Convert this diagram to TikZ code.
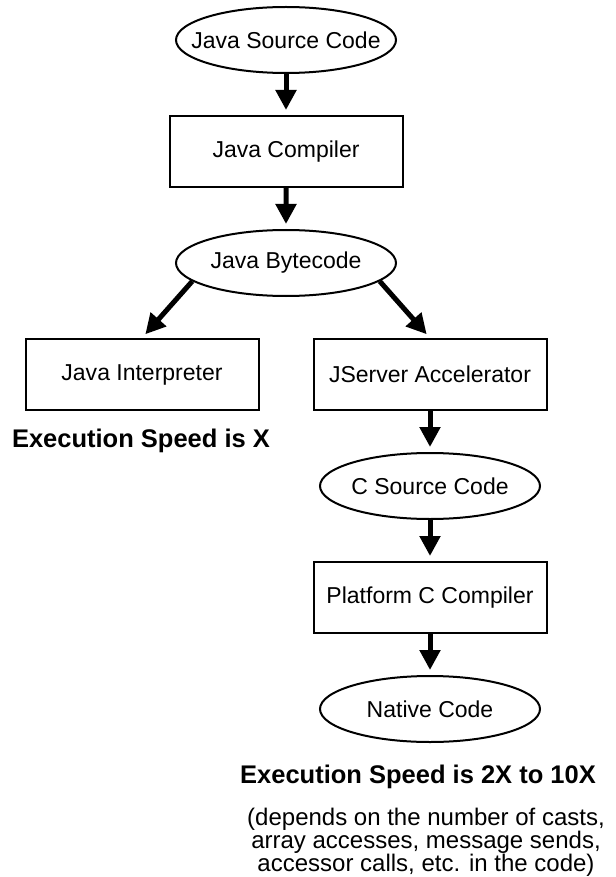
\documentclass[tikz,border=0pt]{standalone}
\usepackage{fontspec}
\setmainfont{Liberation Sans}
\usetikzlibrary{shapes,arrows.meta}

\begin{document}
\begin{tikzpicture}[x=1pt,y=1pt,level distance=111.5pt]
\tikzstyle{every node}=[font=\fontsize{23}{22.5}\selectfont]
\tikzstyle{oval}=[ellipse,draw,line width=2pt,minimum width=220pt,minimum height=66pt,inner xsep=-17pt,inner ysep=0pt]
\tikzstyle{block}=[rectangle,draw,line width=2pt,minimum width=233pt,minimum height=71pt]
\tikzstyle{speed}=[font=\fontsize{25.5}{25}\selectfont\bfseries]
\tikzstyle{edge from parent}=[draw,line width=5pt,-{Triangle[width=20pt,length=20pt]},shorten >=5pt]
\tikzstyle{straight}=[edge from parent path={(\tikzparentnode\tikzparentanchor) -- (\tikzchildnode\tikzchildanchor)}]
\tikzstyle{level 3}=[sibling distance=288pt]
\useasboundingbox (0,0) rectangle (615,-877);
\node[oval] (src) at (286,-40) {Java Source Code}
  child {node[block] (javac) {Java Compiler}
    child {node[oval] (bytecode) {Java Bytecode}
      child[edge from parent path={(\tikzparentnode.191) -- (\tikzchildnode.north)}] {node[block] (interp) {Java Interpreter}}
      child[edge from parent path={(\tikzparentnode.349) -- (\tikzchildnode.north)}] {node[block] (jserver) {JServer Accelerator}
        child[straight] {node[oval] (csrc) {C Source Code}
          child {node[block] (ccomp) {Platform C Compiler}
            child {node[oval] (native) {Native Code}}
          }
        }
      }
    }
  };
\node[speed] (speedx) at (141,-441) {Execution Speed is X};
\node[speed] (speedn) at (418,-777) {Execution Speed is 2X to 10X};
\node[align=center,font=\fontsize{24}{23}\selectfont] (note) at (426,-842) {(depends on the number of casts,\\array accesses, message sends,\\accessor calls, etc. in the code)};
\end{tikzpicture}
\end{document}
